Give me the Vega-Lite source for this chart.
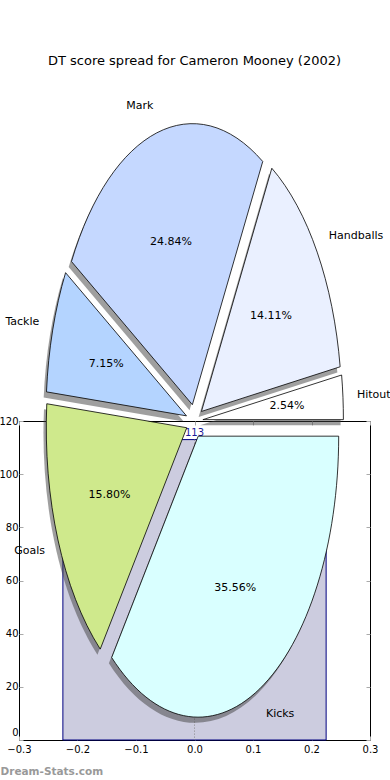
{
  "$schema": "https://vega.github.io/schema/vega-lite/v6.json",
  "width": 351,
  "height": 319,
  "autosize": {"type": "none"},
  "padding": {"left": 19, "top": 421, "right": 20, "bottom": 40},
  "background": "white",
  "title": {
    "text": "DT score spread for Cameron Mooney (2002)",
    "font": "DejaVu Sans",
    "fontSize": 13,
    "fontWeight": "normal",
    "color": "#000000",
    "frame": "group",
    "anchor": "middle",
    "baseline": "alphabetic",
    "offset": 22
  },
  "datasets": {
    "bar": [{"start": -0.225, "end": 0.225, "value": 113}],
    "pie": [
      {"label": "Hitout", "pct": 2.54},
      {"label": "Handballs", "pct": 14.11},
      {"label": "Mark", "pct": 24.84},
      {"label": "Tackle", "pct": 7.15},
      {"label": "Goals", "pct": 15.80},
      {"label": "Kicks", "pct": 35.56}
    ]
  },
  "layer": [
    {
      "data": {"name": "bar"},
      "mark": {"type": "rect", "fill": "#ccccdf", "stroke": "#000080", "strokeWidth": 1},
      "encoding": {
        "x": {
          "field": "start", "type": "quantitative",
          "scale": {"domain": [-0.3, 0.3], "nice": false, "zero": false, "padding": 0},
          "axis": {
            "orient": "bottom", "values": [-0.3, -0.2, -0.1, 0, 0.1, 0.2, 0.3], "format": ".1f",
            "labelFlush": false, "labelOverlap": false, "grid": false, "domain": false,
            "tickSize": -4, "tickColor": "#aaaaaa", "labelPadding": 8,
            "labelFontSize": 10, "labelColor": "#000000", "labelFont": "DejaVu Sans",
            "title": "Dream-Stats.com", "titleX": -19, "titleY": 34, "titleAlign": "left",
            "titleAnchor": "start", "titleBaseline": "alphabetic", "titleFontSize": 10.5,
            "titleFontWeight": "bold", "titleColor": "#999999", "titleFont": "DejaVu Sans"
          }
        },
        "x2": {"field": "end"},
        "y": {
          "field": "value", "type": "quantitative",
          "scale": {"domain": [0, 120], "nice": false, "zero": false, "padding": 0},
          "axis": {
            "orient": "left", "values": [0, 20, 40, 60, 80, 100, 120],
            "labelFlush": false, "labelOverlap": false, "grid": false, "domain": false,
            "tickSize": -4, "tickColor": "#aaaaaa", "labelPadding": 5,
            "labelOffset": {"condition": {"test": "datum.value === 0", "value": -8}, "value": 0},
            "labelFontSize": 10, "labelColor": "#000000", "labelFont": "DejaVu Sans",
            "title": null
          }
        },
        "y2": {"datum": 0}
      }
    },
    {
      "data": {"name": "bar"},
      "mark": {"type": "rule", "color": "#888888", "strokeDash": [1, 2], "strokeWidth": 1},
      "encoding": {
        "x": {
          "datum": 0, "type": "quantitative",
          "scale": {"domain": [-0.3, 0.3], "nice": false, "zero": false, "padding": 0},
          "axis": {
            "orient": "top", "values": [-0.3, -0.2, -0.1, 0, 0.1, 0.2, 0.3],
            "labels": false, "grid": false, "domain": false,
            "tickSize": -4, "tickColor": "#aaaaaa", "title": null
          }
        },
        "y": {
          "field": "value", "type": "quantitative",
          "scale": {"domain": [0, 120], "nice": false, "zero": false, "padding": 0},
          "axis": {
            "orient": "right", "values": [0, 20, 40, 60, 80, 100, 120],
            "labels": false, "grid": false, "domain": false,
            "tickSize": -4, "tickColor": "#aaaaaa", "title": null
          }
        },
        "y2": {"datum": 0}
      }
    },
    {
      "data": {"name": "bar"},
      "mark": {"type": "text", "baseline": "alphabetic", "dy": -4, "fontSize": 10, "font": "DejaVu Sans", "color": "#1a1a99"},
      "encoding": {
        "x": {"datum": 0, "type": "quantitative", "scale": {"domain": [-0.3, 0.3], "nice": false, "zero": false, "padding": 0}, "axis": null},
        "y": {"field": "value", "type": "quantitative", "scale": {"domain": [0, 120], "nice": false, "zero": false, "padding": 0}, "axis": null},
        "text": {"field": "value", "type": "quantitative"}
      }
    },
    {
      "data": {"name": "pie"},
      "mark": {"type": "point", "filled": true, "size": 78961, "color": "#404040", "opacity": 0.5, "strokeWidth": 0, "xOffset": -2.8, "yOffset": 5.6},
      "encoding": {
        "x": {"datum": 0, "type": "quantitative", "scale": {"domain": [-0.3, 0.3], "nice": false, "zero": false, "padding": 0}, "axis": null},
        "y": {"datum": 120, "type": "quantitative", "scale": {"domain": [0, 120], "nice": false, "zero": false, "padding": 0}, "axis": null},
        "shape": {
          "field": "label", "type": "nominal", "legend": null,
          "scale": {
            "domain": ["Hitout", "Handballs", "Mark", "Tackle", "Goals", "Kicks"],
            "range": [
              "M0.0598 -0.0096 L1.0598 -0.0096 A1 2 0 0 0 1.0471 -0.3274 Z",
              "M0.0494 -0.0680 L1.0367 -0.3859 A1 2 0 0 0 0.5503 -1.7990 Z",
              "M-0.0152 -0.1161 L0.4857 -1.8471 A1 2 0 0 0 -0.8756 -1.1353 Z",
              "M-0.0571 -0.0366 L-0.9176 -1.0558 A1 2 0 0 0 -1.0535 -0.2073 Z",
              "M-0.0550 0.0479 L-1.0514 -0.1228 A1 2 0 0 0 -0.6709 1.6236 Z",
              "M0.0263 0.1079 L-0.5896 1.6835 A1 2 0 0 0 1.0263 0.1079 Z"
            ]
          }
        }
      }
    },
    {
      "data": {"name": "pie"},
      "mark": {"type": "point", "filled": true, "size": 78961, "opacity": 1, "stroke": "#000000", "strokeWidth": 0.8},
      "encoding": {
        "x": {"datum": 0, "type": "quantitative", "scale": {"domain": [-0.3, 0.3], "nice": false, "zero": false, "padding": 0}, "axis": null},
        "y": {"datum": 120, "type": "quantitative", "scale": {"domain": [0, 120], "nice": false, "zero": false, "padding": 0}, "axis": null},
        "fill": {
          "field": "label", "type": "nominal", "legend": null,
          "scale": {
            "domain": ["Hitout", "Handballs", "Mark", "Tackle", "Goals", "Kicks"],
            "range": ["#ffffff", "#eaf0ff", "#c5d8ff", "#b4d4ff", "#cfe98c", "#d9ffff"]
          }
        },
        "shape": {
          "field": "label", "type": "nominal", "legend": null,
          "scale": {
            "domain": ["Hitout", "Handballs", "Mark", "Tackle", "Goals", "Kicks"],
            "range": [
              "M0.0598 -0.0096 L1.0598 -0.0096 A1 2 0 0 0 1.0471 -0.3274 Z",
              "M0.0494 -0.0680 L1.0367 -0.3859 A1 2 0 0 0 0.5503 -1.7990 Z",
              "M-0.0152 -0.1161 L0.4857 -1.8471 A1 2 0 0 0 -0.8756 -1.1353 Z",
              "M-0.0571 -0.0366 L-0.9176 -1.0558 A1 2 0 0 0 -1.0535 -0.2073 Z",
              "M-0.0550 0.0479 L-1.0514 -0.1228 A1 2 0 0 0 -0.6709 1.6236 Z",
              "M0.0263 0.1079 L-0.5896 1.6835 A1 2 0 0 0 1.0263 0.1079 Z"
            ]
          }
        }
      }
    },
    {
      "data": {"name": "pie"},
      "transform": [
        {"window": [{"op": "sum", "field": "pct", "as": "cum"}], "frame": [null, 0]},
        {"calculate": "(datum.cum - datum.pct / 2) * PI / 50", "as": "mid"},
        {"calculate": "1.16 * cos(datum.mid) * 0.2402", "as": "lx"},
        {"calculate": "120 + 1.16 * sin(datum.mid) * 105.7", "as": "ly"},
        {"filter": "cos(datum.mid) < 0"}
      ],
      "mark": {"type": "text", "align": "right", "baseline": "middle", "fontSize": 11, "font": "DejaVu Sans", "color": "#000000"},
      "encoding": {
        "x": {"field": "lx", "type": "quantitative", "scale": {"domain": [-0.3, 0.3], "nice": false, "zero": false, "padding": 0}, "axis": null},
        "y": {"field": "ly", "type": "quantitative", "scale": {"domain": [0, 120], "nice": false, "zero": false, "padding": 0}, "axis": null},
        "text": {"field": "label", "type": "nominal"}
      }
    },
    {
      "data": {"name": "pie"},
      "transform": [
        {"window": [{"op": "sum", "field": "pct", "as": "cum"}], "frame": [null, 0]},
        {"calculate": "(datum.cum - datum.pct / 2) * PI / 50", "as": "mid"},
        {"calculate": "1.16 * cos(datum.mid) * 0.2402", "as": "lx"},
        {"calculate": "120 + 1.16 * sin(datum.mid) * 105.7", "as": "ly"},
        {"filter": "cos(datum.mid) >= 0"}
      ],
      "mark": {"type": "text", "align": "left", "baseline": "middle", "fontSize": 11, "font": "DejaVu Sans", "color": "#000000"},
      "encoding": {
        "x": {"field": "lx", "type": "quantitative", "scale": {"domain": [-0.3, 0.3], "nice": false, "zero": false, "padding": 0}, "axis": null},
        "y": {"field": "ly", "type": "quantitative", "scale": {"domain": [0, 120], "nice": false, "zero": false, "padding": 0}, "axis": null},
        "text": {"field": "label", "type": "nominal"}
      }
    },
    {
      "data": {"name": "pie"},
      "transform": [
        {"window": [{"op": "sum", "field": "pct", "as": "cum"}], "frame": [null, 0]},
        {"calculate": "(datum.cum - datum.pct / 2) * PI / 50", "as": "mid"},
        {"calculate": "0.66 * cos(datum.mid) * 0.2402", "as": "px"},
        {"calculate": "120 + 0.66 * sin(datum.mid) * 105.7", "as": "py"},
        {"calculate": "format(datum.pct, '.2f') + '%'", "as": "ptxt"}
      ],
      "mark": {"type": "text", "align": "center", "baseline": "middle", "fontSize": 11, "font": "DejaVu Sans", "color": "#000000"},
      "encoding": {
        "x": {"field": "px", "type": "quantitative", "scale": {"domain": [-0.3, 0.3], "nice": false, "zero": false, "padding": 0}, "axis": null},
        "y": {"field": "py", "type": "quantitative", "scale": {"domain": [0, 120], "nice": false, "zero": false, "padding": 0}, "axis": null},
        "text": {"field": "ptxt", "type": "nominal"}
      }
    }
  ],
  "resolve": {"axis": {"x": "independent", "y": "independent"}},
  "config": {
    "view": {"stroke": "#000000", "strokeWidth": 1},
    "font": "DejaVu Sans"
  }
}
